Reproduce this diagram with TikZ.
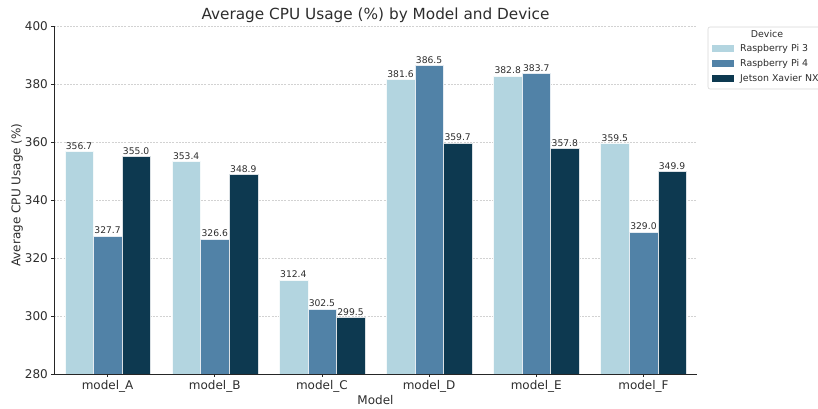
\documentclass[tikz,border=0pt]{standalone}
\usepackage{fontspec}
\setmainfont{DejaVu Sans}
\definecolor{pithree}{RGB}{179,213,224}
\definecolor{pifour}{RGB}{81,130,167}
\definecolor{xavier}{RGB}{13,57,80}
\definecolor{txt}{RGB}{45,45,45}
\definecolor{gridc}{RGB}{210,210,210}
\definecolor{legframe}{RGB}{215,215,215}

% value -> vertical position: 280 at y=35, 2.9pt per percent
\newcommand\cpuy[1]{35+(#1-280)*2.9}

\begin{document}
\begin{tikzpicture}[x=1pt,y=1pt,
  barfill/.style={fill=#1, draw=white!85!#1, line width=0.2pt},
  vlabel/.style={font=\fontsize{9.2}{10}\selectfont, text=txt, anchor=south, inner sep=1.8pt},
  ticklab/.style={font=\fontsize{12}{14}\selectfont, text=txt, inner sep=0pt},
  axlab/.style={font=\fontsize{12}{14}\selectfont, text=txt, inner sep=0pt},
  gridline/.style={draw=gridc, line width=0.5pt, dash pattern=on 2pt off 1.2pt},
  spine/.style={draw=black!85, line width=0.8pt},
  tickmark/.style={draw=black!85, line width=0.7pt},
  legtext/.style={font=\fontsize{9.4}{11}\selectfont, text=txt, anchor=west, inner sep=0pt},
]
\useasboundingbox (0,0) rectangle (818,409);

% horizontal grid
\foreach \v in {300,320,...,400}{
  \draw[gridline] (54,{\cpuy{\v}}) -- (697,{\cpuy{\v}});
}

% bars with their value labels
\newcommand\cpubar[4]{% category index, slot, value, colour
  \pgfmathsetmacro\xc{107.585+107.17*#1+(#2-1)*28.58}
  \pgfmathsetmacro\yt{\cpuy{#3}}
  \fill[barfill=#4] (\xc-14.29,35) rectangle (\xc+14.29,\yt);
  \node[vlabel] (val-#1-#2) at (\xc,\yt) {#3};
}
\foreach \a/\b/\c/\m [count=\i from 0] in
  {356.7/327.7/355.0/A, 353.4/326.6/348.9/B, 312.4/302.5/299.5/C,
   381.6/386.5/359.7/D, 382.8/383.7/357.8/E, 359.5/329.0/349.9/F}{
  \cpubar{\i}{0}{\a}{pithree}
  \cpubar{\i}{1}{\b}{pifour}
  \cpubar{\i}{2}{\c}{xavier}
  \pgfmathsetmacro\xm{107.585+107.17*\i}
  \draw[tickmark] (\xm,35) -- (\xm,31.5);
  \node[ticklab, anchor=base] (cat-\m) at (\xm,19) {model\_\m};
}

% axes spines
\draw[spine] (54,35) -- (54,{\cpuy{400}});
\draw[spine] (54,35) -- (697,35);

% y ticks and labels
\foreach \v in {280,300,...,400}{
  \draw[tickmark] (54,{\cpuy{\v}}) -- (50.5,{\cpuy{\v}});
  \node[ticklab, anchor=east] (ytick-\v) at (48,{\cpuy{\v}}) {\v};
}

% axis titles and chart title
\node[axlab, anchor=base] (xtitle) at (375.5,5) {Model};
\node[axlab, rotate=90] (ytitle) at (17,214) {Average CPU Usage (\%)};
\node[font=\fontsize{15.3}{18}\selectfont, text=txt, anchor=base, inner sep=0pt] (title) at (375.5,389) {Average CPU Usage (\%) by Model and Device};

% legend
\draw[legframe, fill=white, rounded corners=2pt, line width=0.6pt] (708,320) rectangle (830,382);
\node[font=\fontsize{9.4}{11}\selectfont, text=txt, inner sep=0pt] (legtitle) at (767,375) {Device};
\fill[pithree] (712,357) rectangle (734,364);
\node[legtext] (leg1) at (740,360.5) {Raspberry Pi 3};
\fill[pifour] (712,342) rectangle (734,349);
\node[legtext] (leg2) at (740,345.5) {Raspberry Pi 4};
\fill[xavier] (712,327) rectangle (734,334);
\node[legtext] (leg3) at (740,330.5) {Jetson Xavier NX};
\end{tikzpicture}
\end{document}
